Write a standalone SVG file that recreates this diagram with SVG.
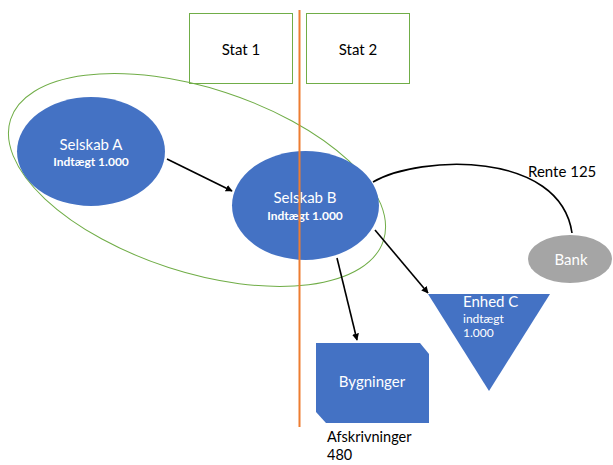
<svg xmlns="http://www.w3.org/2000/svg" width="613" height="465" viewBox="0 0 613 465">
<style>
.box{fill:#fff;stroke:#70ad47;stroke-width:1}
.blue{fill:#4472c4}
.t{font-family:Lato,"Liberation Sans",sans-serif}
.big{font-size:15px}
.small{font-size:12px;font-weight:bold}
.w{fill:#fff}
.k{fill:#000}
.conn{fill:none;stroke:#000;stroke-width:1.6}
</style>
<defs>
<marker id="ah" viewBox="0 0 10 10" refX="9" refY="5" markerWidth="7" markerHeight="7" markerUnits="userSpaceOnUse" orient="auto">
<path d="M0,0 L10,5 L0,10 z" fill="#000"/>
</marker>
</defs>
<rect width="613" height="465" fill="#fff"/>
<g id="stat1">
<rect class="box" x="189.5" y="13.5" width="103" height="70"/>
<text class="t big k" x="241" y="55" text-anchor="middle">Stat 1</text>
</g>
<g id="stat2">
<rect class="box" x="306.5" y="13.5" width="103" height="70"/>
<text class="t big k" x="358" y="55" text-anchor="middle">Stat 2</text>
</g>
<g id="group">
<ellipse cx="197" cy="180" rx="196" ry="92" transform="rotate(18 197 180)" fill="none" stroke="#70ad47" stroke-width="1"/>
</g>
<g id="selskabA">
<ellipse class="blue" cx="91" cy="151.5" rx="74" ry="54.5"/>
<text class="t big w" x="91" y="150" text-anchor="middle">Selskab A</text>
<text class="t small w" x="91" y="166" text-anchor="middle">Indtægt 1.000</text>
</g>
<g id="selskabB">
<ellipse class="blue" cx="305.5" cy="205.5" rx="73.5" ry="54.5"/>
<text class="t big w" x="305" y="203" text-anchor="middle">Selskab B</text>
<text class="t small w" x="305" y="220" text-anchor="middle">Indtægt 1.000</text>
</g>
<g id="bank">
<ellipse cx="570" cy="259" rx="42" ry="24" fill="#a5a5a5"/>
<text class="t big w" x="571" y="265" text-anchor="middle">Bank</text>
</g>
<g id="enhedC">
<polygon class="blue" points="428,294 550,294 489,391"/>
<text class="t big w" x="463" y="307">Enhed C</text>
<text class="t small w" x="463" y="323" style="font-weight:normal">indtægt</text>
<text class="t small w" x="463" y="337" style="font-weight:normal">1.000</text>
</g>
<g id="bygninger">
<polygon class="blue" points="316,343 420,343 429,354 429,423 326,423 316,412"/>
<text class="t big w" x="372" y="387" text-anchor="middle">Bygninger</text>
</g>
<g id="connectors">
<line x1="299.5" y1="10" x2="299.5" y2="427" stroke="#ed7d31" stroke-width="2"/>
<line class="conn" x1="167" y1="159" x2="232" y2="191" marker-end="url(#ah)"/>
<line class="conn" x1="337" y1="258" x2="357" y2="340" marker-end="url(#ah)"/>
<line class="conn" x1="375" y1="230" x2="428" y2="293" marker-end="url(#ah)"/>
<path class="conn" d="M373,182 C420,155 560,150 572,233"/>
</g>
<text class="t k" style="font-size:14.5px" x="327" y="442">Afskrivninger</text>
<text class="t k" style="font-size:14.5px" x="327" y="460">480</text>
<text class="t big k" x="528" y="177">Rente 125</text>
</svg>
